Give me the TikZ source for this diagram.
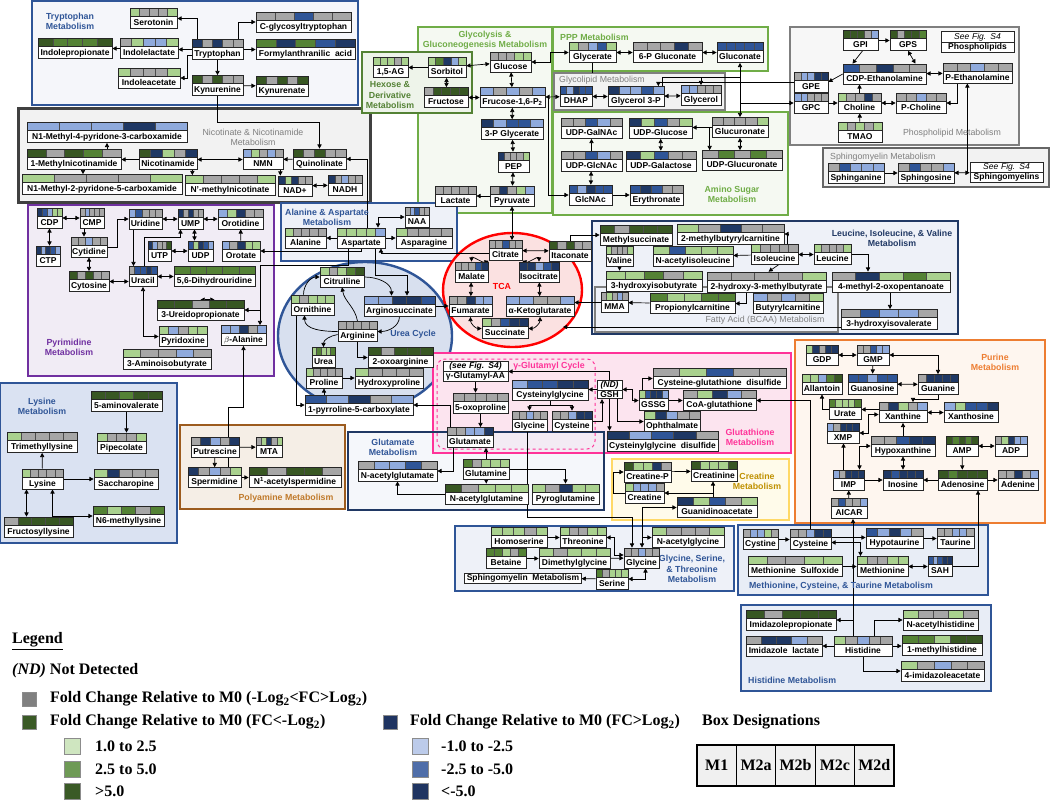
\documentclass[tikz,border=0pt]{standalone}
\usepackage{fontspec}
\setmainfont{Liberation Serif}
\setsansfont{Liberation Sans}
\usepackage{tikz}
\usetikzlibrary{calc, arrows.meta, shapes.multipart, backgrounds}

% cell colours
\definecolor{coln}{HTML}{A6A6A6}
\definecolor{coll}{HTML}{A9D18E}
\definecolor{colm}{HTML}{548235}
\definecolor{cold}{HTML}{385723}
\definecolor{cola}{HTML}{8FAADC}
\definecolor{colb}{HTML}{2F5597}
\definecolor{colc}{HTML}{1F3864}
% group colours
\definecolor{blueG}{HTML}{2F5597}
\definecolor{navyG}{HTML}{203864}
\definecolor{greenG}{HTML}{70AD47}
\definecolor{hexG}{HTML}{548235}
\definecolor{grayG}{HTML}{7F7F7F}
\definecolor{darkG}{HTML}{404040}
\definecolor{purpleG}{HTML}{7030A0}
\definecolor{brownG}{HTML}{9C5B1E}
\definecolor{brownT}{HTML}{C07A2B}
\definecolor{pinkG}{HTML}{FF3399}
\definecolor{yellowG}{HTML}{FFD966}
\definecolor{goldT}{HTML}{BF9000}
\definecolor{orangeG}{HTML}{ED7D31}
\definecolor{redG}{HTML}{FF0000}
% fills
\definecolor{trpF}{HTML}{F5F6FA}
\definecolor{nicF}{HTML}{F2F2F2}
\definecolor{glyF}{HTML}{F5F9F2}
\definecolor{hexF}{HTML}{EEF4EA}
\definecolor{pyrF}{HTML}{F1ECF5}
\definecolor{alaF}{HTML}{EEF1F8}
\definecolor{ureaF}{HTML}{D8E0EF}
\definecolor{lysF}{HTML}{DAE2F2}
\definecolor{polyF}{HTML}{F5EEE6}
\definecolor{pinkF}{HTML}{FCE4EF}
\definecolor{crF}{HTML}{FFFBEA}
\definecolor{tcaF}{HTML}{FBE1E1}
\definecolor{purF}{HTML}{FEF6EF}
\definecolor{metF}{HTML}{E8EDF6}
\definecolor{legN}{HTML}{808080}
\definecolor{legL}{HTML}{CFE6C0}
\definecolor{legM}{HTML}{6E9A55}
\definecolor{legD}{HTML}{3A5A26}
\definecolor{legA}{HTML}{BCCBEA}
\definecolor{legB}{HTML}{4F6EA9}
\definecolor{legC}{HTML}{1F3461}

\newcommand{\metfont}{\sffamily\bfseries\fontsize{8.5}{9.5}\selectfont}
\newcommand{\grpfont}{\sffamily\bfseries\fontsize{8.8}{10.2}\selectfont}
\newcommand{\legfont}{\rmfamily\bfseries\fontsize{16}{19}\selectfont}

\pgfdeclarelayer{boxes}
\pgfdeclarelayer{links}
\pgfsetlayers{boxes,links,main}

\tikzset{
  cells/.code={\gdef\cellcols{#1}},
  metab/.style={draw=black!85, line width=0.7pt, fill=white, minimum height=20pt,
    inner xsep=1pt, inner ysep=0pt, text height=14pt, text depth=0pt, font=\metfont,
    path picture={
      \foreach \cc [count=\k] in \cellcols {
        \path[fill=col\cc, draw=black!70, line width=0.4pt]
          ($(path picture bounding box.north west)!{(\k-1)/5}!(path picture bounding box.north east)$)
          rectangle
          ($(path picture bounding box.north west)!{\k/5}!(path picture bounding box.north east)+(0,-8pt)$);
      }
      \draw[line width=0.6pt] ($(path picture bounding box.north west)+(0,-8pt)$) -- ($(path picture bounding box.north east)+(0,-8pt)$);
    }},
  note/.style={rectangle split, rectangle split parts=2, draw=black!85, line width=0.7pt,
    fill=white, font=\metfont, inner xsep=2pt, inner ysep=0.8pt, align=center, text width=#1},
  plainbox/.style={draw=black!85, line width=0.7pt, fill=white, font=\metfont, inner xsep=2pt, inner ysep=1pt},
  grptitle/.style={font=\grpfont, align=center, inner sep=0pt},
  grp/.style={line width=2.4pt},
  lsq/.style={draw=black!45, line width=0.6pt, minimum width=14pt, minimum height=14pt, inner sep=0pt},
  ltxt/.style={anchor=west, font=\legfont, inner sep=0pt},
  dcell/.style={draw=black, line width=1.2pt, fill=black!6, minimum width=39.4pt, minimum height=41pt, font=\legfont}
}

% name, x, y, width, cells, label
\newcommand{\metab}[6]{\node[metab, cells={#5}, minimum width=#4pt] (#1) at (#2,#3) {#6};}

\begin{document}
\begin{tikzpicture}[x=1pt, y=-1pt, >={Triangle[length=4.2pt,width=4.2pt]}]
\useasboundingbox (0,0) rectangle (1050,801);

% ---------------- group boxes ----------------
\begin{pgfonlayer}{boxes}
\draw[grp, blueG, fill=trpF] (32,1) rectangle (358,105);
\draw[grp, darkG, fill=nicF, line width=3pt] (18,108) rectangle (370,202);
\draw[grp, greenG, fill=glyF] (418,27) rectangle (552,213);
\draw[grp, hexG, fill=hexF] (362,52) rectangle (472,113);
\draw[grp, greenG, fill=glyF] (553,27) rectangle (768,71);
\draw[grp, grayG, fill=nicF] (554,73) rectangle (725,110);
\draw[grp, greenG, fill=glyF] (553,112) rectangle (788,215);
\draw[grp, grayG, fill=black!3] (790,27) rectangle (1019,145);
\draw[grp, darkG!80, fill=nicF] (823,148) rectangle (1049,187);
\draw[grp, purpleG, fill=pyrF] (28,205) rectangle (274,376);
\draw[grp, blueG, fill=alaF] (281,203) rectangle (457,261);
\draw[grp, blueG, fill=ureaF] (365,336) ellipse [x radius=87pt, y radius=74pt];
\draw[grp, blueG, fill=lysF] (0,383) rectangle (177,543);
\draw[grp, brownG, fill=polyF] (180,425) rectangle (345,509);
\fill[pinkF] (433,353) rectangle (791,453);
\fill[alaF, opacity=0.6] (348,432) rectangle (604,510);
\draw[grp, pinkG] (433,353) rectangle (791,453);
\draw[grp, navyG] (348,432) rectangle (604,510);
\draw[pinkG, line width=1pt, dashed, rounded corners=8pt] (437,359) rectangle (595,449);
\draw[grp, yellowG, fill=crF] (612,459) rectangle (789,520);
\draw[grp, redG, fill=tcaF] (512.5,290) ellipse [x radius=69.5pt, y radius=57pt];
\draw[grp, navyG, fill=alaF] (592,221) rectangle (958,334);
\draw[grp, grayG, line width=1.8pt] (595,287) rectangle (838,332);
\draw[grp, orangeG, fill=purF] (795,340) rectangle (1045,523);
\draw[grp, blueG, fill=metF] (738,525) rectangle (988,595);
\draw[grp, blueG, fill=metF] (741,605) rectangle (991,691);
\draw[grp, blueG, fill=alaF] (455,526) rectangle (734,591);
\end{pgfonlayer}

% ---------------- group titles ----------------
\node[grptitle, text=blueG] (tTrp) at (70,21) {Tryptophan\\Metabolism};
\node[grptitle, text=grayG, font=\sffamily\fontsize{8.8}{10.2}\selectfont] (tNic) at (253,137) {Nicotinate \& Nicotinamide\\Metabolism};
\node[grptitle, text=hexG] (tHex) at (390,95) {Hexose \&\\Derivative\\Metabolism};
\node[grptitle, text=greenG] (tGly) at (485,40) {Glycolysis \&\\Gluconeogenesis Metabolism};
\node[grptitle, text=greenG, anchor=west] (tPPP) at (560,37) {PPP Metabolism};
\node[grptitle, text=grayG, anchor=west, font=\sffamily\fontsize{8.8}{10.2}\selectfont] (tGlp) at (559,80) {Glycolipid Metabolism};
\node[grptitle, text=greenG] (tAms) at (732,194) {Amino Sugar\\Metabolism};
\node[grptitle, text=grayG, font=\sffamily\fontsize{8.8}{10.2}\selectfont] (tPhl) at (952,133) {Phospholipid Metabolism};
\node[grptitle, text=grayG, anchor=west, font=\sffamily\fontsize{8.8}{10.2}\selectfont] (tSph) at (830,157) {Sphingomyelin Metabolism};
\node[grptitle, text=purpleG] (tPyr) at (69,347) {Pyrimidine\\Metabolism};
\node[grptitle, text=blueG] (tAla) at (327,217) {Alanine \& Aspartate\\Metabolism};
\node[grptitle, text=blueG] (tUrea) at (413,334) {Urea Cycle};
\node[grptitle, text=blueG] (tLys) at (42,406) {Lysine\\Metabolism};
\node[grptitle, text=brownT] (tPoly) at (286,498) {Polyamine Metabolism};
\node[grptitle, text=blueG] (tGlu) at (393,447) {Glutamate\\Metabolism};
\node[grptitle, text=pinkG] (tGsh) at (750,437) {Glutathione\\Metabolism};
\node[grptitle, text=pinkG] (tGgc) at (549,366) {γ-Glutamyl Cycle};
\node[grptitle, text=goldT] (tCr) at (757,481) {Creatine\\Metabolism};
\node[grptitle, text=redG] (tTca) at (502,286) {TCA};
\node[grptitle, text=navyG] (tLeu) at (892,238) {Leucine, Isoleucine, \& Valine\\Metabolism};
\node[grptitle, text=grayG, font=\sffamily\fontsize{8.8}{10.2}\selectfont] (tFat) at (765,320) {Fatty Acid (BCAA) Metabolism};
\node[grptitle, text=orangeG] (tPur) at (995,362) {Purine\\Metabolism};
\node[grptitle, text=blueG] (tMet) at (841,586) {Methionine, Cysteine, \& Taurine Metabolism};
\node[grptitle, text=blueG, anchor=west] (tHis) at (748,680) {Histidine Metabolism};
\node[grptitle, text=blueG] (tGlyc) at (692,569) {Glycine, Serine,\\\& Threonine\\Metabolism};

% ---------------- tryptophan ----------------
\metab{srt}{153.5}{18.5}{47}{l,n,n,n,l}{Serotonin}
\metab{cgly}{303.5}{22}{95}{n,n,b,n,n}{C-glycosyltryptophan}
\metab{ipro}{75}{48.5}{74}{d,m,m,m,d}{Indolepropionate}
\metab{ilac}{149}{48.5}{58}{n,l,a,a,l}{Indolelactate}
\metab{trp}{217.5}{49.5}{51}{c,n,c,n,n}{Tryptophan}
\metab{formyl}{305.5}{49}{99}{m,c,m,b,c}{Formylanthranilic\ \ acid}
\metab{iace}{149}{78}{62}{l,n,n,n,l}{Indoleacetate}
\metab{kyn}{217.5}{85.5}{51}{d,n,d,n,n}{Kynurenine}
\metab{kyna}{282}{86}{52}{d,n,d,n,d}{Kynurenate}

% ---------------- nicotinate ----------------
\metab{mpyr4}{107}{132.5}{160}{a,a,a,c,a}{N1-Methyl-4-pyridone-3-carboxamide}
\metab{mnam}{74}{159}{94}{d,n,d,m,n}{1-Methylnicotinamide}
\metab{nam}{168}{159.5}{58}{d,c,l,n,c}{Nicotinamide}
\metab{nmn}{263}{159.5}{40}{a,l,n,a,n}{NMN}
\metab{quin}{319.5}{159}{53}{d,n,d,n,n}{Quinolinate}
\metab{mpyr2}{102}{184.5}{160}{l,n,n,n,l}{N1-Methyl-2-pyridone-5-carboxamide}
\metab{mnic}{230}{185.5}{90}{l,n,n,n,l}{N’-methylnicotinate}
\metab{nad}{295}{186}{34}{c,l,c,n,n}{NAD+}
\metab{nadh}{345}{185}{34}{c,n,a,n,n}{NADH}

% ---------------- hexose / glycolysis / PPP ----------------
\metab{ag}{390.5}{67.5}{35}{l,l,l,n,l}{1,5-AG}
\metab{sorb}{447}{67.5}{38}{l,m,c,a,l}{Sorbitol}
\metab{fru}{446}{97.5}{44}{n,d,d,d,d}{Fructose}
\metab{glc}{510.5}{62}{41}{n,n,n,l,l}{Glucose}
\metab{fbp}{512.5}{97.5}{65}{a,n,a,n,a}{Frucose-1,6-P\textsubscript{2}}
\metab{pga}{512}{129.5}{62}{c,a,b,b,a}{3-P Glycerate}
\metab{pep}{513.5}{162}{31}{c,n,n,n,l}{PEP}
\metab{pyr}{512}{196}{44}{n,c,n,l,a}{Pyruvate}
\metab{lac}{455.5}{196}{41}{n,n,n,n,n}{Lactate}
\metab{glyc}{592.5}{52.5}{47}{l,n,a,b,l}{Glycerate}
\metab{sixpg}{667.5}{52.5}{69}{n,n,n,c,n}{6-P Gluconate}
\metab{glcn}{740}{52.5}{46}{b,b,b,b,b}{Gluconate}
\metab{dhap}{576}{96.5}{32}{b,a,c,b,b}{DHAP}
\metab{g3p}{636}{96.5}{56}{c,a,a,b,a}{Glycerol 3-P}
\metab{glol}{701}{95.5}{40}{a,a,n,n,n}{Glycerol}

% ---------------- amino sugar ----------------
\metab{udpgalnac}{591.5}{128.5}{61}{n,n,b,a,n}{UDP-GalNAc}
\metab{udpglc}{660.5}{128.5}{63}{c,l,b,n,l}{UDP-Glucose}
\metab{udpglcnac}{591.5}{161}{61}{n,n,b,a,n}{UDP-GlcNAc}
\metab{udpgal}{661}{161}{70}{c,l,b,n,n}{UDP-Galactose}
\metab{glcnac}{590.5}{195}{43}{b,a,c,b,b}{GlcNAc}
\metab{eryth}{656.5}{195}{53}{b,c,b,n,n}{Erythronate}
\metab{glcua}{740}{127.5}{56}{n,n,n,n,l}{Glucuronate}
\metab{udpglcua}{742}{160.5}{80}{n,m,n,m,n}{UDP-Glucuronate}

% ---------------- phospholipid / sphingomyelin ----------------
\metab{gpi}{860.5}{40.5}{35}{d,d,d,n,a}{GPI}
\metab{gps}{908}{40.5}{36}{d,n,d,d,m}{GPS}
\node[note=69pt] (phl) at (977.5,42) {\mdseries\itshape See Fig. S4 \nodepart{two} Phospholipids};
\metab{cdpe}{884.5}{74}{83}{b,n,c,n,n}{CDP-Ethanolamine}
\metab{pe}{977.5}{73}{69}{n,n,a,n,n}{P-Ethanolamine}
\metab{gpe}{811}{82}{34}{n,a,a,c,c}{GPE}
\metab{gpc}{811}{103}{34}{a,a,n,n,n}{GPC}
\metab{cho}{859.5}{103}{43}{l,n,n,c,n}{Choline}
\metab{pcho}{921}{103}{50}{n,n,a,n,n}{P-Choline}
\metab{tmao}{860}{132}{44}{l,n,l,n,l}{TMAO}
\metab{spha}{856}{173}{56}{n,b,a,a,a}{Sphinganine}
\metab{spho}{926}{173}{56}{n,b,n,n,a}{Sphingosine}
\node[note=69pt] (sphm) at (1006.5,172.5) {\mdseries\itshape See Fig. S4 \nodepart{two} Sphingomyelins};

% ---------------- pyrimidine ----------------
\metab{cdp}{49.5}{218}{25}{c,b,a,l,l}{CDP}
\metab{cmp}{92}{218}{24}{n,a,n,n,n}{CMP}
\metab{urd}{145.5}{219}{33}{a,b,n,n,n}{Uridine}
\metab{ump}{190.5}{219}{25}{c,n,c,n,n}{UMP}
\metab{orod}{240.5}{219}{45}{a,l,c,n,n}{Orotidine}
\metab{ctp}{48}{256}{24}{c,a,c,b,a}{CTP}
\metab{cyd}{89}{247}{36}{n,n,a,n,n}{Cytidine}
\metab{utp}{159.5}{251}{23}{c,a,n,n,d}{UTP}
\metab{udp}{200.5}{251}{25}{b,l,c,b,a}{UDP}
\metab{orot}{241}{251}{38}{a,n,c,l,l}{Orotate}
\metab{cyt}{89}{281.5}{40}{d,n,d,n,n}{Cytosine}
\metab{ura}{143}{276.5}{28}{n,b,b,c,b}{Uracil}
\metab{dhu}{214.5}{276.5}{81}{m,m,m,m,m}{5,6-Dihydrouridine}
\metab{urp}{200.5}{310}{87}{d,d,n,d,d}{3-Ureidopropionate}
\metab{pyrx}{183}{336.5}{48}{l,a,n,l,l}{Pyridoxine}
\metab{bala}{243.5}{335.5}{45}{a,a,c,n,a}{$\beta$-Alanine}
\metab{aib}{167}{359.5}{88}{l,n,n,a,n}{3-Aminoisobutyrate}

% ---------------- alanine / urea ----------------
\metab{naa}{417}{217}{24}{n,a,b,n,n}{NAA}
\metab{ala}{305.5}{238}{41}{l,n,n,n,n}{Alanine}
\metab{asp}{361}{238}{48}{l,l,l,l,a}{Aspartate}
\metab{asn}{424}{238}{56}{l,n,n,n,n}{Asparagine}
\metab{cit}{342}{277}{44}{l,n,l,m,d}{Citrulline}
\metab{orn}{312.5}{305}{43}{l,n,l,l,l}{Ornithine}
\metab{asa}{399.5}{306}{71}{a,a,c,c,b}{Arginosuccinate}
\metab{arg}{357.5}{331.5}{39}{n,n,n,n,n}{Arginine}
\metab{urea}{323.5}{357.5}{23}{l,m,l,l,m}{Urea}
\metab{oxarg}{400.5}{357.5}{65}{d,n,d,d,d}{2-oxoarginine}
\metab{pro}{324}{378}{36}{l,n,n,n,n}{Proline}
\metab{hyp}{389}{378}{68}{l,n,n,n,n}{Hydroxyproline}
\metab{p5c}{359}{405}{108}{b,a,c,n,a}{1-pyrroline-5-carboxylate}

% ---------------- lysine / polyamine ----------------
\metab{ava}{126.5}{401.5}{71}{d,d,m,d,d}{5-aminovalerate}
\metab{tml}{42}{442.5}{70}{l,n,n,n,n}{Trimethyllysine}
\metab{pip}{121.5}{443}{49}{l,n,n,n,l}{Pipecolate}
\metab{lys}{42.5}{479}{41}{l,n,n,n,n}{Lysine}
\metab{sac}{126}{479}{64}{l,c,n,n,n}{Saccharopine}
\metab{nml}{128.5}{516}{71}{m,l,m,n,m}{N6-methyllysine}
\metab{frl}{38.5}{527}{69}{n,d,d,d,d}{Fructosyllysine}
\metab{put}{215}{447.5}{48}{n,c,a,n,c}{Putrescine}
\metab{mta}{269}{447}{26}{n,l,c,n,l}{MTA}
\metab{spd}{214.5}{477.5}{53}{c,n,a,n,l}{Spermidine}
\metab{nasp}{295}{477.5}{92}{d,n,d,d,n}{N\textsuperscript{1}-acetylspermidine}

% ---------------- glutamate / creatine ----------------
\metab{nag}{397.5}{471}{79}{n,a,a,b,n}{N-acetylglutamate}
\metab{glu}{470}{437.5}{46}{n,n,a,a,c}{Glutamate}
\metab{gln}{486}{469}{46}{m,n,l,l,l}{Glutamine}
\metab{nagln}{486.5}{494}{83}{d,n,l,l,l}{N-acetylglutamine}
\metab{pyrgln}{565.5}{494}{67}{l,n,c,l,l}{Pyroglutamine}
\metab{crp}{647.5}{472}{47}{d,l,l,c,n}{Creatine-P}
\metab{crn}{714}{471}{46}{d,l,l,l,d}{Creatinine}
\metab{cr}{644.5}{493}{39}{l,a,a,a,n}{Creatine}
\metab{gaa}{717}{507.5}{80}{c,l,b,n,l}{Guanidinoacetate}

% ---------------- TCA ----------------
\metab{cita}{505.5}{250.5}{33}{n,n,b,n,n}{Citrate}
\metab{ita}{570}{251}{42}{d,n,d,n,n}{Itaconate}
\metab{mal}{471.5}{272}{33}{n,n,n,b,c}{Malate}
\metab{icit}{539}{272}{40}{c,c,a,b,c}{Isocitrate}
\metab{fum}{470.5}{306.5}{43}{n,n,c,a,a}{Fumarate}
\metab{akg}{540}{306.5}{68}{a,a,n,n,a}{α-Ketoglutarate}
\metab{suc}{505}{328.5}{46}{l,n,b,c,c}{Succinate}

% ---------------- BCAA ----------------
\metab{msuc}{636}{235}{72}{d,n,d,d,d}{Methylsuccinate}
\metab{mbc}{730.5}{234}{107}{l,n,c,n,n}{2-methylbutyrylcarnitine}
\metab{val}{619.5}{256}{27}{l,n,n,n,l}{Valine}
\metab{naile}{693}{256.5}{80}{l,b,l,l,l}{N-acetylisoleucine}
\metab{ile}{774.5}{254.5}{47}{l,n,n,n,n}{Isoleucine}
\metab{leu}{832.5}{254.5}{37}{l,n,n,n,l}{Leucine}
\metab{hib}{654}{281}{96}{l,l,m,n,l}{3-hydroxyisobutyrate}
\metab{hmb}{766.5}{282}{119}{n,n,n,n,l}{2-hydroxy-3-methylbutyrate}
\metab{mop}{891}{282}{118}{n,c,l,m,l}{4-methyl-2-oxopentanoate}
\metab{mma}{614.5}{302.5}{27}{n,l,n,a,n}{MMA}
\metab{ppc}{692.5}{303.5}{85}{m,l,l,m,m}{Propionylcarnitine}
\metab{btc}{788}{303.5}{70}{a,n,a,n,l}{Butyrylcarnitine}
\metab{hiv}{889}{319.5}{96}{n,b,a,a,n}{3-hydroxyisovalerate}

% ---------------- glutathione ----------------
\node[note=61pt] (ggaa) at (475.5,371.5) {\itshape (see Fig. S4) \nodepart{two} γ-Glutamyl-AA};
\metab{oxo}{480.5}{403}{55}{n,n,n,n,n}{5-oxoproline}
\metab{cysgly}{550}{390}{76}{a,b,b,c,c}{Cysteinylglycine}
\node[note=21pt] (gsh) at (609.5,389.5) {\itshape (ND) \nodepart{two} GSH};
\metab{gssg}{653.5}{400.5}{29}{l,b,c,c,a}{GSSG}
\metab{cgd}{719.5}{378.5}{133}{n,l,b,n,n}{Cysteine-glutathione\ \ disulfide}
\metab{coag}{719.5}{400.5}{73}{n,l,c,a,n}{CoA-glutathione}
\metab{oph}{672}{421.5}{56}{l,c,a,n,n}{Ophthalmate}
\metab{glyG}{529.5}{421}{35}{n,n,a,n,n}{Glycine}
\metab{cysG}{572}{421}{40}{n,n,a,c,c}{Cysteine}
\metab{cgdis}{662.5}{441}{111}{c,a,b,c,n}{Cysteinylglycine\ \ disulfide}

% ---------------- purine ----------------
\metab{gdp}{822}{355}{32}{l,c,n,c,c}{GDP}
\metab{gmp}{873}{355}{32}{n,n,b,a,a}{GMP}
\metab{allan}{822}{384}{40}{l,l,a,m,d}{Allantoin}
\metab{guo}{872.5}{384}{49}{b,b,a,b,b}{Guanosine}
\metab{gua}{938}{384.5}{40}{n,c,c,c,c}{Guanine}
\metab{urat}{845}{409}{32}{m,l,l,l,m}{Urate}
\metab{xan}{903}{412.5}{48}{n,c,l,n,a}{Xanthine}
\metab{xao}{971}{412.5}{54}{a,l,b,b,c}{Xanthosine}
\metab{xmp}{843}{433}{32}{a,n,c,c,c}{XMP}
\metab{hyx}{903}{446}{64}{n,n,b,c,c}{Hypoxanthine}
\metab{amp}{962}{446}{32}{d,m,d,m,d}{AMP}
\metab{adp}{1011}{446}{32}{n,l,c,a,a}{ADP}
\metab{imp}{848.5}{480}{31}{a,n,c,c,c}{IMP}
\metab{ino}{903}{480}{40}{c,b,c,c,c}{Inosine}
\metab{ado}{962.5}{480}{49}{d,m,d,d,d}{Adenosine}
\metab{ade}{1018}{480}{40}{n,n,c,n,a}{Adenine}
\metab{aicar}{849}{508.5}{36}{n,b,n,n,a}{AICAR}

% ---------------- methionine / histidine / glycine ----------------
\metab{cyss}{760.5}{539.5}{35}{n,a,a,l,n}{Cystine}
\metab{cysM}{810.5}{539.5}{41}{n,n,a,c,c}{Cysteine}
\metab{hyt}{894.5}{538.5}{57}{b,a,c,a,n}{Hypotaurine}
\metab{tau}{955.5}{538.5}{37}{n,n,a,a,n}{Taurine}
\metab{mso}{795}{566.5}{94}{l,n,n,l,l}{Methionine\ \ Sulfoxide}
\metab{met}{882.5}{566.5}{51}{l,n,n,l,l}{Methionine}
\metab{sah}{940}{566.5}{24}{b,a,b,c,c}{SAH}
\metab{improp}{791}{620}{90}{d,n,d,d,d}{Imidazolepropionate}
\metab{nahis}{940.5}{620}{75}{l,n,n,l,n}{N-acetylhistidine}
\metab{imlac}{784}{646}{76}{n,c,c,a,n}{Imidazole\ \ lactate}
\metab{his}{863}{646}{58}{l,n,a,n,n}{Histidine}
\metab{mhis}{942}{645}{80}{m,m,l,d,d}{1-methylhistidine}
\metab{iac}{942.5}{671}{83}{l,n,a,n,n}{4-imidazoleacetate}
\metab{hser}{519}{537.5}{56}{l,l,l,n,l}{Homoserine}
\metab{thr}{583}{537.5}{46}{l,n,n,l,l}{Threonine}
\metab{nagly}{688}{537.5}{72}{l,n,n,n,l}{N-acetylglycine}
\metab{bet}{506}{558.5}{40}{m,m,l,n,m}{Betaine}
\metab{dmg}{574.5}{558.5}{71}{l,n,l,l,l}{Dimethylglycine}
\metab{gly}{641.5}{558}{35}{n,n,a,n,n}{Glycine}
\metab{ser}{612}{579}{32}{m,n,l,l,l}{Serine}
\node[plainbox] (smm) at (523,578) {Sphingomyelin\ \ Metabolism};

% ---------------- connectors ----------------
\begin{pgfonlayer}{links}
\begin{scope}[line width=0.7pt]
% tryptophan
\draw[->] ([xshift=6pt]trp.north west) |- (srt.east);
\draw[->] ([xshift=-5pt]trp.north east) |- (cgly.west);
\draw[->] (trp.west) -- (trp.west -| ilac.east);
\draw[->] (ilac.west) -- (ilac.west -| ipro.east);
\draw[->] (trp.east) -- (trp.east -| formyl.west);
\draw[->] ([yshift=-6pt]trp.west) -- ++(-4pt,0) |- (iace.east);
\draw[->] (trp) -- (kyn);
\draw[->] (kyn) -- (kyna);
\draw[->] (kyn.south) -- (217.5,122) -| (quin.north);
% nicotinate
\draw[->] (nam.west) -- (nam.west -| mnam.east);
\draw[->] (mpyr4.south |- mnam.north) -- (mpyr4.south);
\draw[->] ([xshift=9pt]mnam.south) -- ([xshift=9pt]mnam.south |- mpyr2.north);
\draw[->] ([xshift=-5pt]nam.south east) -- ([xshift=-5pt]nam.south east |- mnic.north);
\draw[<->] (nam) -- (nmn);
\draw[->] (quin) -- (nmn);
\draw[->] ([xshift=-3pt]nmn.south east) -- ([xshift=-3pt]nmn.south east |- nad.north);
\draw[<->] (nad) -- (nadh);
\draw[->] ([xshift=6pt]asp.north) |- (quin.east);
% hexose, glycolysis, PPP
\draw[->] (sorb) -- (ag);
\draw[<->] (sorb) -- (glc);
\draw[<->] (sorb) -- (fru);
\draw[<->] (fru) -- (fbp);
\draw[<->] (glc) -- (fbp);
\draw[<->] (fbp) -- (pga);
\draw[<->] (pga) -- (pep);
\draw[<->] (pep) -- (pyr);
\draw[->] (pyr) -- (lac);
\draw[<->] (pyr.south) -- (pyr.south |- cita.north);
\draw[<->] (glc.east) -- ++(19pt,0) |- (glyc.west);
\draw[<->] (glyc) -- (sixpg);
\draw[<->] (sixpg) -- (glcn);
\draw (glyc.south) -- ++(0,-10pt);
\draw[<->] (fbp) -- (dhap);
\draw[<->] (dhap) -- (g3p);
\draw[<->] (g3p) -- (glol);
\draw[->] ([xshift=3pt]fbp.east) |- (glcnac.west);
% glycolipid / phospholipid links
\draw[->] (gpe.west) -| ([xshift=-6pt]g3p.north east);
\draw[->] ([xshift=-2pt]g3p.north east) |- (740,77) |- (gpc.west);
\draw[->] (glol.north |- 740,77) -- (glol.north);
% amino sugar
\draw[<->] (glcn) -- (glcua);
\draw[<->] (glcua.south) -- (glcua.south |- udpglcua.north);
\draw[->] (glcua.west) -- (glcua.west -| udpglc.east);
\draw[->] ([xshift=-2pt]glcua.west) -- ([xshift=-2pt]glcua.west |- udpglcua.north);
\draw[->] (udpglcnac) -- (udpgalnac);
\draw[<->] (udpglc) -- (udpgal);
\draw[<->] (udpglcnac) -- (glcnac);
\draw[->] (glcnac) -- (eryth);
% phospholipid
\draw[->] (gpi) -- (gps);
\draw[->] ([xshift=2pt]gpi.south) -- ([xshift=-32pt]cdpe.north);
\draw[<->] (gps.south) -- ([xshift=31pt]cdpe.north);
\draw[<->] (cdpe) -- (pe);
\draw[->] (cdpe.west) -- (gpe.east);
\draw[->] (cho.north) -- (cho.north |- cdpe.south);
\draw[->] (gpc) -- (cho);
\draw[<->] (cho) -- (pcho);
\draw[->] ([xshift=-20pt]pe.south) |- (pcho.east);
\draw[->] (tmao) -- (cho);
\draw[->] ([xshift=13pt]spho.east) -- ([xshift=13pt]spho.east |- pe.south);
\draw[->] (spha) -- (spho);
\draw[<->] (spho) -- (sphm);
% pyrimidine
\draw[<->] (cdp) -- (cmp);
\draw[<->] (cdp.south) -- (cdp.south |- ctp.north);
\draw[->] ([xshift=-8pt]cmp.south) -- ([xshift=-8pt]cmp.south |- cyd.north);
\draw[<->] (cyd) -- (cyt);
\draw[->] (cyd.east) -- ++(10pt,0) |- (urd.west);
\draw[<->] (urd) -- (ump);
\draw[<->] (ump) -- (orod);
\draw[->] (orot) -- (orod);
\draw[<->] ([xshift=4pt]ump.south) -- ([xshift=4pt]ump.south |- udp.north);
\draw[<->] (utp) -- (udp);
\draw[->] ([xshift=-12pt]urd.south) -- ([xshift=-12pt]urd.south |- ura.north);
\draw[->] ([xshift=1pt]ura.north) -- (144,237) -| ([xshift=-10pt]ump.south);
\draw[<->] (cyt.east) -- (cyt.east -| ura.west);
\draw[<->] (ura) -- (dhu);
\draw[<->] (urp.north -| dhu.south) -- (urp.north);
\draw[<->] (ura.south) |- (pyrx.west);
\draw[->] ([xshift=-13pt]asp.south) -- ++(0,-17pt) -| ([xshift=16.5pt]bala.north);
\draw[->] ([xshift=16.5pt]bala.north |- urp.east) -- (urp.east);
\draw[->] (asp.south) |- (orot.east);
\draw[->] ([xshift=13.5pt]spd.north) -- (228,407) -| (bala.south);
% alanine / aspartate
\draw[->] (asp) -- (ala);
\draw[->] (asp) -- (asn);
\draw[<->] ([xshift=17pt]asp.north) |- (naa.west);
\draw[->] ([yshift=-3pt]cita.west) -| ([xshift=20pt]asp.south);
\draw[->] ([xshift=14pt]asp.south) -- ++(0,-27pt) -| ([xshift=7.5pt]asa.north);
% urea cycle
\draw[->] (cit.east) to[out=0,in=90] ([xshift=-8pt]asa.north);
\draw[->] (asa.south) to[out=-90,in=0] (arg.east);
\draw[->] (arg.west) to[out=180,in=-90] ([xshift=-8pt]orn.south);
\draw[->] ([xshift=-9pt]orn.north) to[out=90,in=180] (cit.west);
\draw[->] (arg.north) to[out=100,in=-80] (cit.south);
\draw[->] ([yshift=-3pt]arg.west) to[out=190,in=90] (urea.north);
\draw[->] (arg.south) |- (oxarg.west);
\draw[->] (pro) -- (hyp);
\draw[->] (p5c.north -| pro.south) -- (pro.south);
\draw[->] ([xshift=-16pt]orn.south) |- (p5c.west);
\draw[->] ([xshift=-20pt]glu.north) |- (p5c.east);
\draw[->] (asa.east) -- (asa.east -| fum.west);
% TCA
\draw[<->] (cita.south west) to[out=200,in=90] (mal.north);
\draw[<->] (cita.south east) to[out=-20,in=90] (icit.north);
\draw[<->] (cita) -- (ita);
\draw[<->] (mal) -- (fum);
\draw[<->] (icit) -- (akg);
\draw[<->] (fum.south) to[out=-90,in=180] (suc.west);
\draw[<->] (akg.south) to[out=-90,in=0] (suc.east);
\draw[->] (ita.north) |- (msuc.west);
\draw[->] (mma.west) -- (mma.west -| akg.east);
\draw[->] (ppc) -- (mma);
\draw[->] ([yshift=-7.5pt]hiv.west) -- (563,327);
% BCAA
\draw[->] ([xshift=13pt]ile.north) |- (mbc.east);
\draw[->] (ile) -- (naile);
\draw[<->] (ile) -- (leu);
\draw[->] ([xshift=4pt]ile.south) -- ([xshift=2pt]hmb.north);
\draw[->] (leu.east) -| ([xshift=-23pt]mop.north);
\draw[->] ([xshift=-1pt]mop.south) -- ([xshift=-1pt]mop.south |- hiv.north);
\draw[->] (val.south) -- (val.south |- hib.north);
\draw[->] ([xshift=-20pt]hmb.south) |- (ppc.east);
% glutathione
\draw[->] (ggaa.south) -- (ggaa.south |- oxo.north);
\draw[->] (oxo.south) -- (oxo.south |- glu.north);
\draw[->] (gsh.west) -- (gsh.west -| cysgly.east);
\draw[->] (gsh.north) |- (ggaa.east);
\draw[->] (cysgly.south) -- ++(0,-5pt) -| (glyG.north);
\draw[->] (cysgly.south) -- ++(0,-5pt) -| (cysG.north);
\draw[->] (cysG.east) -| ([xshift=-7.5pt]gsh.south);
\draw[<->] (gsh.east) -- ++(10pt,0) |- (gssg.west);
\draw[->] ([xshift=4pt]gssg.north west) |- (cgd.west);
\draw[->] (gssg) -- (coag);
\draw[->] ([xshift=8pt]gsh.south) |- (oph.west);
\draw[->] (gsh.south) -- (gsh.south |- cgdis.north);
\draw[->] (cysM.north) |- (coag.east);
% glutamate
\draw[->] (gln.north) -- (gln.north |- glu.south);
\draw[->] (gln) -- (nagln);
\draw[->] (gln.east) -| (pyrgln.north);
\draw[->] ([xshift=7pt]glu.south west) |- (nag.east);
\draw[->] (nagln.west) -| (nag.south);
% glycine, serine, threonine
\draw[->] ([xshift=-2pt]glyG.south) -- ++(0,-86pt) -| ([xshift=-9.5pt]gly.north);
\draw[<->] (gaa.west) -| ([xshift=0.5pt]gly.north);
\draw[->] ([xshift=0.5pt]gly.north |- nagly.west) -- (nagly.west);
\draw[<->] (thr.east) -- ++(8pt,0) |- ([yshift=3pt]gly.west);
\draw[->] (hser) -- (thr);
\draw[->] (bet) -- (dmg);
\draw[->] (dmg) -- (gly);
\draw[<->] ([xshift=4pt]gly.south) |- (ser.east);
\draw[->] (ser) -- (smm);
% creatine
\draw[->] (cr.west) -- ++(-11pt,0) |- (crp.west);
\draw[->] (crp) -- (crn);
\draw[->] ([xshift=-4pt]gaa.north) |- (cr.east);
\draw[->] ([xshift=-4pt]gaa.north) -- ([xshift=-4pt]gaa.north |- crn.south);
% purine
\draw[<->] (gdp) -- (gmp);
\draw[->] (gmp) -- (guo);
\draw[<->] (gmp.east) -| (gua.north);
\draw[<->] (guo) -- (gua);
\draw[->] (gua.south) -- ++(0,-4pt) -| ([xshift=10pt]xan.north);
\draw[->] ([yshift=3pt]xan.west) -- ([yshift=3pt]xan.west -| urat.east);
\draw[->] (urat.west) -| (allan.south);
\draw[<->] (xan) -- (xao);
\draw[<->] (xmp.east) -- ++(9pt,0) |- ([yshift=-2pt]xan.west);
\draw[->] (hyx) -- (xan);
\draw[<->] (hyx) -- (ino);
\draw[<->] (hyx.west) -| ([xshift=11pt]imp.north);
\draw[->] ([xshift=-5pt]imp.north) -- ([xshift=-5pt]imp.north |- xmp.south);
\draw[->] (imp) -- (ino);
\draw[->] (ado) -- (ino);
\draw[->] (amp) -- (ado);
\draw[<->] (amp) -- (adp);
\draw[->] (ado) -- (ade);
\draw[->] (aicar) -- (imp);
\draw[->] (sah.east) -| ([xshift=15.5pt]ado.south);
% methionine
\draw[->] (cyss) -- (cysM);
\draw[->] ([yshift=2pt]cysM.east) -- ([yshift=2pt]cysM.east -| hyt.west);
\draw[<->] ([yshift=-3pt]cysM.east) -| ([xshift=-22pt]met.north);
\draw[->] (hyt) -- (tau);
\draw[->] (mso) -- (met);
\draw[<->] (met) -- (sah);
% histidine
\draw[->] ([xshift=-10pt]his.north) -- ([xshift=-10pt]his.north |- aicar.south);
\draw[->] ([xshift=-10pt]his.north |- improp.east) -- (improp.east);
\draw[->] ([xshift=11pt]his.north) |- (nahis.west);
\draw[->] (his) -- (imlac);
\draw[->] (his.east) -- (his.east -| mhis.west);
\draw[->] (his.south) |- (iac.west);
% lysine
\draw[->] (ava.south) -- (ava.south |- pip.north);
\draw[->] (lys) -- (tml);
\draw[->] (lys) -- (sac);
\draw[<->] ([xshift=10pt]lys.south) |- (nml.west);
\draw[<->] ([xshift=-16pt]lys.south) -- ([xshift=-16pt]lys.south |- frl.north);
% polyamine
\draw[->] (put) -- (mta);
\draw[->] (put) -- (spd);
\draw[->] (spd) -- (nasp);
\end{scope}
\end{pgfonlayer}

% ---------------- legend ----------------
\node[ltxt] (leg) at (12,641) {\underline{Legend}};
\node[ltxt] (legnd) at (12,671) {\textit{(ND)} Not Detected};
\node[lsq, fill=legN] (sqn) at (29,699) {};
\node[ltxt] (txn) at (50,699) {Fold Change Relative to M0 (-Log\textsubscript{2}<FC>Log\textsubscript{2})};
\node[lsq, fill=legD] (sqg) at (29,722) {};
\node[ltxt] (txg) at (50,722) {Fold Change Relative to M0 (FC<-Log\textsubscript{2})};
\node[lsq, fill=legL, minimum width=16pt, minimum height=16pt] (sql) at (72,746) {};
\node[ltxt] (txl) at (95,746) {1.0 to 2.5};
\node[lsq, fill=legM, minimum width=16pt, minimum height=16pt] (sqm) at (72,769) {};
\node[ltxt] (txm) at (95,769) {2.5 to 5.0};
\node[lsq, fill=legD, minimum width=16pt, minimum height=16pt] (sqd) at (72,791) {};
\node[ltxt] (txd) at (95,791) {>5.0};
\node[lsq, fill=legC] (sqb) at (390,722) {};
\node[ltxt] (txb) at (410,722) {Fold Change Relative to M0 (FC>Log\textsubscript{2})};
\node[lsq, fill=legA, minimum width=16pt, minimum height=16pt] (sqa) at (420,746) {};
\node[ltxt] (txa) at (441,746) {-1.0 to -2.5};
\node[lsq, fill=legB, minimum width=16pt, minimum height=16pt] (sqbb) at (420,769) {};
\node[ltxt] (txbb) at (441,769) {-2.5 to -5.0};
\node[lsq, fill=legC, minimum width=16pt, minimum height=16pt] (sqc) at (420,791) {};
\node[ltxt] (txc) at (441,791) {<-5.0};
\node[ltxt] (boxd) at (702,722) {Box Designations};
\foreach \lab [count=\k] in {M1,M2a,M2b,M2c,M2d}
  \node[dcell] (d\k) at ({697+39.4*(\k-0.5)},765.5) {\lab};
\end{tikzpicture}
\end{document}
